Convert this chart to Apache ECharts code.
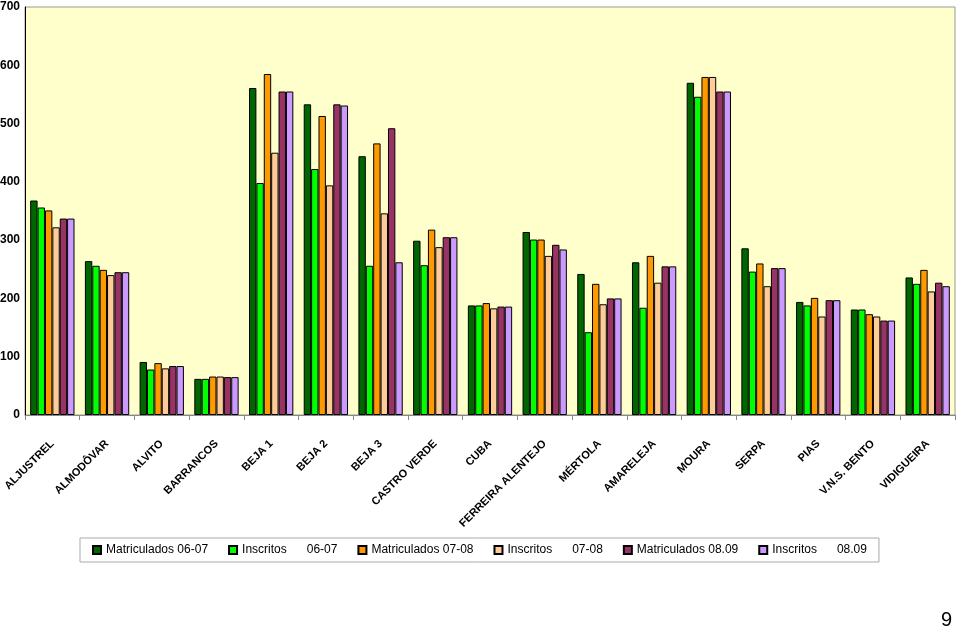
<!DOCTYPE html>
<html><head><meta charset="utf-8">
<script src="https://cdn.jsdelivr.net/npm/echarts@6/dist/echarts.min.js"></script>
<style>html,body{margin:0;padding:0;background:#fff}#c{width:960px;height:633px}</style>
</head><body><div id="c"></div>
<script>
var categories = ['ALJUSTREL','ALMODÔVAR','ALVITO','BARRANCOS','BEJA 1','BEJA 2','BEJA 3','CASTRO VERDE','CUBA','FERREIRA ALENTEJO','MÉRTOLA','AMARELEJA','MOURA','SERPA','PIAS','V.N.S. BENTO','VIDIGUEIRA'];
var seriesNames = ['Matriculados 06-07','Inscritos      06-07','Matriculados 07-08','Inscritos      07-08','Matriculados 08.09','Inscritos      08.09'];
var mat0607 = [368,264,91,62,561,533,444,299,188,314,242,262,570,286,194,181,236];
var ins0607 = [356,256,78,62,398,422,256,257,188,301,142,184,546,246,188,181,225];
var mat0708 = [351,249,89,66,585,513,466,318,192,301,225,273,580,260,201,173,249];
var ins0708 = [322,240,80,66,450,394,346,288,183,273,190,227,580,221,169,169,212];
var mat0809 = [337,245,84,65,555,533,492,305,186,292,200,255,555,252,197,162,227];
var ins0809 = [337,245,84,65,555,531,262,305,186,284,200,255,555,252,197,162,221];
var yTicks = {min:0, max:700, interval:100};
var colors = ['#006600','#00ff00','#ff9900','#ffcc99','#993366','#cc99ff'];
var allData = [mat0607,ins0607,mat0708,ins0708,mat0809,ins0809];

var font = '"Liberation Sans Narrow","Arial Narrow","Liberation Sans",Arial,sans-serif';
var chart = echarts.init(document.getElementById('c'), null, {renderer:'canvas'});
chart.setOption({
  animation:false,
  backgroundColor:'#ffffff',
  grid:{left:25, top:7, right:5, bottom:218, show:true, backgroundColor:'#ffffcc', borderColor:'#999999', borderWidth:1, outerBoundsMode:'none', containLabel:false},
  legend:{
    data:seriesNames, left:80, top:538, width:798,
    padding:[6,12,6,12], itemGap:20, itemWidth:8, itemHeight:8,
    borderColor:'#aaaaaa', borderWidth:1, backgroundColor:'#ffffff',
    textStyle:{fontFamily:font, fontSize:12, color:'#000'},
    icon:'rect'
  },
  xAxis:{
    type:'category', data:categories,
    axisLine:{lineStyle:{color:'#888888'}},
    axisTick:{show:true, length:5, lineStyle:{color:'#888888'}},
    axisLabel:{rotate:45, interval:0, fontFamily:font, fontWeight:'bold', fontSize:11, color:'#000', margin:27}
  },
  yAxis:{
    type:'value', min:yTicks.min, max:yTicks.max, interval:yTicks.interval,
    axisLine:{show:true, lineStyle:{color:'#000'}},
    axisTick:{show:false},
    splitLine:{show:false},
    axisLabel:{fontFamily:font, fontWeight:'bold', fontSize:12, color:'#000', margin:5}
  },
  series: allData.map(function(d,i){
    return {name:seriesNames[i], type:'bar', data:d, barGap:'0%', barCategoryGap:'19%',
      itemStyle:{color:colors[i], borderColor:'#000', borderWidth:1}};
  }),
  graphic:[{type:'text', right:8, top:610, style:{text:'9', fontFamily:'"Liberation Sans",Arial,sans-serif', fontSize:20, fill:'#000'}}]
});
</script></body></html>
